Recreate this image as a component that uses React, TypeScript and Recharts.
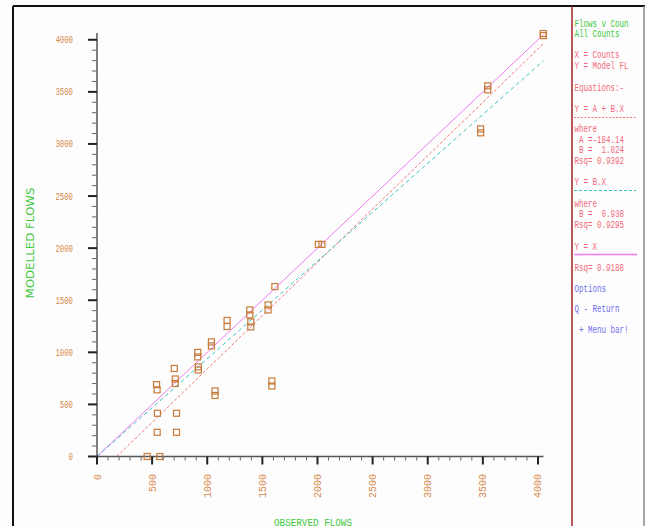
import { ScatterChart, Scatter, XAxis, YAxis, ReferenceLine } from "recharts";

// observed counts (X) vs modelled flows (Y)
const obsFlows = [
  455, 570, 546, 548, 540, 545, 721, 721, 701, 710, 710, 914, 914, 919, 919,
  1038, 1038, 1071, 1071, 1180, 1180, 1386, 1386, 1395, 1395, 1552, 1552, 1613,
  1586, 1586, 2008, 2040, 3480, 3480, 3544, 3544, 4048, 4048,
];
const modelFlows = [
  0, 0, 232, 415, 690, 640, 415, 232, 845, 744, 701, 999, 956, 860, 830,
  1100, 1061, 629, 586, 1306, 1248, 1407, 1359, 1292, 1244, 1455, 1407, 1631,
  725, 677, 2036, 2036, 3145, 3107, 3558, 3520, 4060, 4040,
];

const majorTicks = [0, 500, 1000, 1500, 2000, 2500, 3000, 3500, 4000];
const minorStep = 100;
const allTicks = Array.from({ length: 41 }, (_, i) => i * minorStep);

// regression results shown in the side panel
const fitA = -184.14;
const fitB = 1.024;
const fitRsq = 0.9392;
const thruB = 0.938;
const thruRsq = 0.9295;
const identRsq = 0.9188;

const X_MAX = 4050;
const Y_MAX = 4065;

const points = obsFlows.map((x, i) => ({ x, y: modelFlows[i] }));

const TICK_COL = "#d88a4c";
const MONO = "'Liberation Mono', 'DejaVu Sans Mono', monospace";

const YTick = (props: any) => {
  const { x, y, payload } = props;
  const major = majorTicks.includes(payload.value);
  const label = String(payload.value);
  return (
    <g>
      <line
        x1={x - (major ? 9 : 5)}
        x2={x}
        y1={y}
        y2={y}
        stroke={major ? "#222" : "#666"}
        strokeWidth={major ? 2 : 1}
      />
      {major && (
        <text
          x={x - 24}
          y={y + 3.5}
          textAnchor="end"
          fontFamily={MONO}
          fontSize={10}
          fill={TICK_COL}
          textLength={label.length * 4.4}
          lengthAdjust="spacingAndGlyphs"
        >
          {label}
        </text>
      )}
    </g>
  );
};

const XTick = (props: any) => {
  const { x, y, payload } = props;
  const major = majorTicks.includes(payload.value);
  const label = String(payload.value);
  return (
    <g>
      <line
        x1={x}
        x2={x}
        y1={y}
        y2={y + (major ? 8 : 4)}
        stroke={major ? "#222" : "#666"}
        strokeWidth={major ? 2 : 1}
      />
      {major && (
        <text
          transform={`translate(${x + 3.5},474) rotate(-90)`}
          textAnchor="end"
          fontFamily={MONO}
          fontSize={10}
          fill={TICK_COL}
          textLength={label.length * 6}
          lengthAdjust="spacingAndGlyphs"
        >
          {label}
        </text>
      )}
    </g>
  );
};

const Square = (props: any) => (
  <rect
    x={props.cx - 3}
    y={props.cy - 3}
    width={6}
    height={6}
    fill="none"
    stroke="#c87a3a"
    strokeWidth={1.2}
  />
);

const PanelText = ({
  y,
  color,
  children,
}: {
  y: number;
  color: string;
  children: string;
}) => (
  <text
    x={574.5}
    y={y}
    fontFamily={MONO}
    fontSize={10}
    fill={color}
    textLength={children.length * 4.5}
    lengthAdjust="spacingAndGlyphs"
    style={{ whiteSpace: "pre" }}
  >
    {children}
  </text>
);

const GREEN = "#3cc83c";
const PINK = "#f2687a";
const BLUE = "#6f6fef";

export default function App() {
  const redEnd = fitA + fitB * X_MAX;
  return (
    <div style={{ position: "absolute", left: 0, top: 0, width: 646, height: 526, background: "#fdfdfd" }}>
      <ScatterChart
        width={646}
        height={526}
        margin={{ top: 33, left: 37, right: 102.5, bottom: 39.5 }}
      >
        <XAxis
          type="number"
          dataKey="x"
          domain={[0, X_MAX]}
          ticks={allTicks}
          interval={0}
          height={30}
          tickSize={0}
          tickMargin={0}
          tickLine={false}
          tick={<XTick />}
          axisLine={{ stroke: "#555", strokeWidth: 1.5 }}
        />
        <YAxis
          type="number"
          dataKey="y"
          domain={[0, Y_MAX]}
          ticks={allTicks}
          interval={0}
          width={60}
          tickSize={0}
          tickMargin={0}
          tickLine={false}
          tick={<YTick />}
          axisLine={{ stroke: "#555", strokeWidth: 1.5 }}
        />
        <ReferenceLine
          segment={[
            { x: 0, y: 0 },
            { x: X_MAX, y: X_MAX },
          ]}
          stroke="#f07cf0"
          strokeWidth={1}
        />
        <ReferenceLine
          segment={[
            { x: -fitA / fitB, y: 0 },
            { x: X_MAX, y: redEnd },
          ]}
          stroke="#f07878"
          strokeWidth={1}
          strokeDasharray="3 2"
        />
        <ReferenceLine
          segment={[
            { x: 0, y: 0 },
            { x: X_MAX, y: thruB * X_MAX },
          ]}
          stroke="#3cc4c4"
          strokeWidth={1}
          strokeDasharray="4 3"
        />
        <Scatter data={points} shape={<Square />} isAnimationActive={false} />
      </ScatterChart>
      <svg
        width={646}
        height={526}
        style={{ position: "absolute", left: 0, top: 0, pointerEvents: "none" }}
      >
        {/* window frame */}
        <line x1={13} x2={13} y1={6} y2={526} stroke="#111" strokeWidth={2} />
        <line x1={13} x2={645} y1={6} y2={6} stroke="#111" strokeWidth={2} />
        <line x1={644} x2={644} y1={6} y2={526} stroke="#888" strokeWidth={1.5} />
        <line x1={572} x2={572} y1={6} y2={526} stroke="#a02020" strokeWidth={1.5} />

        {/* axis titles */}
        <text
          x={313}
          y={526}
          textAnchor="middle"
          fontFamily={MONO}
          fontSize={11}
          fill={GREEN}
          textLength={78}
          lengthAdjust="spacingAndGlyphs"
        >
          OBSERVED FLOWS
        </text>
        <text
          transform="translate(34,243) rotate(-90)"
          textAnchor="middle"
          fontFamily="'DejaVu Sans', sans-serif"
          fontSize={10}
          fill={GREEN}
          textLength={111}
          lengthAdjust="spacingAndGlyphs"
        >
          MODELLED  FLOWS
        </text>

        {/* side panel */}
        <PanelText y={27} color={GREEN}>Flows v Coun</PanelText>
        <PanelText y={37} color={GREEN}>All Counts</PanelText>
        <PanelText y={58} color={PINK}>X = Counts</PanelText>
        <PanelText y={68.5} color={PINK}>Y = Model FL</PanelText>
        <PanelText y={91} color={PINK}>Equations:-</PanelText>
        <PanelText y={112} color={PINK}>Y = A + B.X</PanelText>
        <line x1={574} x2={637} y1={117.5} y2={117.5} stroke="#f07878" strokeWidth={1} strokeDasharray="2 1.5" />
        <PanelText y={132} color={PINK}>where</PanelText>
        <PanelText y={142.5} color={PINK}>{` A =${fitA.toFixed(2)}`}</PanelText>
        <PanelText y={153} color={PINK}>{` B =  ${fitB.toFixed(3)}`}</PanelText>
        <PanelText y={163.5} color={PINK}>{`Rsq= ${fitRsq.toFixed(4)}`}</PanelText>
        <PanelText y={185} color={PINK}>Y = B.X</PanelText>
        <line x1={574} x2={636} y1={190.5} y2={190.5} stroke="#3cc4c4" strokeWidth={1} strokeDasharray="3 2" />
        <PanelText y={207} color={PINK}>where</PanelText>
        <PanelText y={217} color={PINK}>{` B =  ${thruB.toFixed(3)}`}</PanelText>
        <PanelText y={227.5} color={PINK}>{`Rsq= ${thruRsq.toFixed(4)}`}</PanelText>
        <PanelText y={249.5} color={PINK}>Y = X</PanelText>
        <line x1={574} x2={637} y1={254.5} y2={254.5} stroke="#f07cf0" strokeWidth={1.5} />
        <PanelText y={271} color={PINK}>{`Rsq= ${identRsq.toFixed(4)}`}</PanelText>
        <PanelText y={292} color={BLUE}>Options</PanelText>
        <PanelText y={312} color={BLUE}>Q - Return</PanelText>
        <PanelText y={333} color={BLUE}> + Menu bar!</PanelText>
      </svg>
    </div>
  );
}
